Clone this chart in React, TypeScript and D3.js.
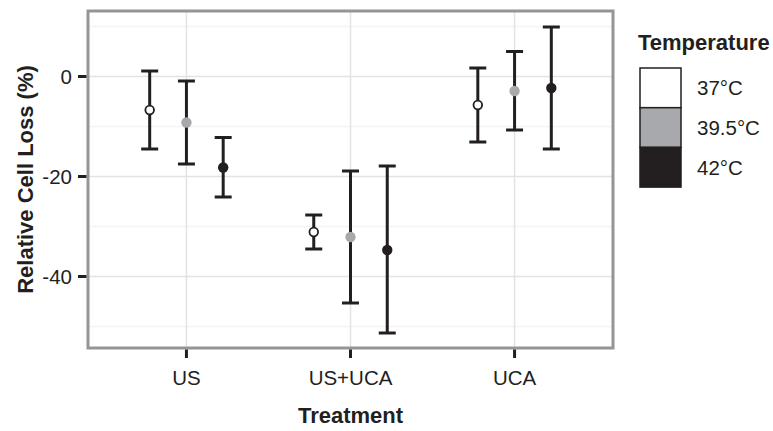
import React from 'react';
import * as d3 from 'd3';

const treatments = ['US', 'US+UCA', 'UCA'];
const temps = ['37°C', '39.5°C', '42°C'];
const fills = ['#ffffff', '#a7a9ac', '#231f20'];

// per temperature, values in treatment order
const mean37 = [-6.7, -31.1, -5.7];
const low37 = [-14.5, -34.5, -13.1];
const high37 = [1.1, -27.7, 1.7];

const mean395 = [-9.2, -32.1, -2.9];
const low395 = [-17.5, -45.3, -10.7];
const high395 = [-0.9, -18.9, 5.0];

const mean42 = [-18.2, -34.7, -2.3];
const low42 = [-24.1, -51.3, -14.5];
const high42 = [-12.2, -17.9, 9.9];

const yMajor = [-40, -20, 0];
const yMinor = [-50, -30, -10, 10];

const W = 773;
const H = 431;
const panel = { left: 88, top: 11, right: 613, bottom: 348 };
const font = 'Liberation Sans, Arial, Helvetica, sans-serif';

const series = [
  { temp: temps[0], fill: fills[0], mean: mean37, low: low37, high: high37 },
  { temp: temps[1], fill: fills[1], mean: mean395, low: low395, high: high395 },
  { temp: temps[2], fill: fills[2], mean: mean42, low: low42, high: high42 },
];

export default function App() {
  const x = d3.scalePoint<string>()
    .domain(treatments)
    .range([panel.left, panel.right])
    .padding(0.6);
  const step = x.step();
  const dodge = d3.scalePoint<string>()
    .domain(temps)
    .range([-0.224 * step, 0.224 * step]);
  const y = d3.scaleLinear()
    .domain([-54.3, 13.1])
    .range([panel.bottom, panel.top]);

  const ink = '#231f20';
  const cap = 8.5;

  return (
    <svg width={W} height={H} style={{ position: 'absolute', left: 0, top: 0 }} fontFamily={font}>
      <rect x={0} y={0} width={W} height={H} fill="#ffffff" />

      {/* grid */}
      {yMinor.map((v) => (
        <line key={'mn' + v} x1={panel.left} x2={panel.right} y1={y(v)} y2={y(v)} stroke="#f4f4f4" strokeWidth={1.5} />
      ))}
      {yMajor.map((v) => (
        <line key={'mj' + v} x1={panel.left} x2={panel.right} y1={y(v)} y2={y(v)} stroke="#e3e3e3" strokeWidth={1.5} />
      ))}
      {treatments.map((t) => (
        <line key={'gx' + t} x1={x(t)} x2={x(t)} y1={panel.top} y2={panel.bottom} stroke="#e3e3e3" strokeWidth={1.5} />
      ))}

      {/* error bars and points */}
      {series.map((s) =>
        treatments.map((t, i) => {
          const cx = (x(t) as number) + (dodge(s.temp) as number);
          return (
            <g key={s.temp + t}>
              <line x1={cx} x2={cx} y1={y(s.low[i])} y2={y(s.high[i])} stroke={ink} strokeWidth={3} />
              <line x1={cx - cap} x2={cx + cap} y1={y(s.low[i])} y2={y(s.low[i])} stroke={ink} strokeWidth={3} />
              <line x1={cx - cap} x2={cx + cap} y1={y(s.high[i])} y2={y(s.high[i])} stroke={ink} strokeWidth={3} />
              {s.fill === '#ffffff' ? (
                <circle cx={cx} cy={y(s.mean[i])} r={4.3} fill="#ffffff" stroke={ink} strokeWidth={1.8} />
              ) : (
                <circle cx={cx} cy={y(s.mean[i])} r={5.2} fill={s.fill} />
              )}
            </g>
          );
        })
      )}

      {/* panel border */}
      <rect
        x={panel.left}
        y={panel.top}
        width={panel.right - panel.left}
        height={panel.bottom - panel.top}
        fill="none"
        stroke="#939598"
        strokeWidth={3}
      />

      {/* y axis */}
      {yMajor.map((v) => (
        <g key={'yt' + v}>
          <line x1={panel.left - 10} x2={panel.left - 1.5} y1={y(v)} y2={y(v)} stroke={ink} strokeWidth={3} />
          <text x={panel.left - 16} y={y(v)} dy="0.36em" textAnchor="end" fontSize={20.5} fill="#231f20">
            {v}
          </text>
        </g>
      ))}

      {/* x axis */}
      {treatments.map((t) => (
        <g key={'xt' + t}>
          <line x1={x(t)} x2={x(t)} y1={panel.bottom + 1.5} y2={panel.bottom + 10} stroke={ink} strokeWidth={3} />
          <text x={x(t)} y={385} textAnchor="middle" fontSize={20.5} fill="#231f20">
            {t}
          </text>
        </g>
      ))}

      <text
        transform={`translate(33,${(panel.top + panel.bottom) / 2}) rotate(-90)`}
        textAnchor="middle"
        fontSize={22}
        fontWeight="bold"
        fill="#231f20"
      >
        Relative Cell Loss (%)
      </text>
      <text x={(panel.left + panel.right) / 2} y={423} textAnchor="middle" fontSize={22} fontWeight="bold" fill="#231f20">
        Treatment
      </text>

      {/* legend */}
      <text x={638} y={50} fontSize={22} fontWeight="bold" fill="#231f20">Temperature</text>
      {temps.map((t, i) => (
        <g key={'lg' + t}>
          <rect x={640} y={68 + i * 39.7} width={41} height={39.7} fill={fills[i]} stroke={ink} strokeWidth={1.5} />
          <text x={697} y={68 + i * 39.7 + 20} dy="0.36em" fontSize={20.5} fill="#231f20">
            {t}
          </text>
        </g>
      ))}
    </svg>
  );
}
